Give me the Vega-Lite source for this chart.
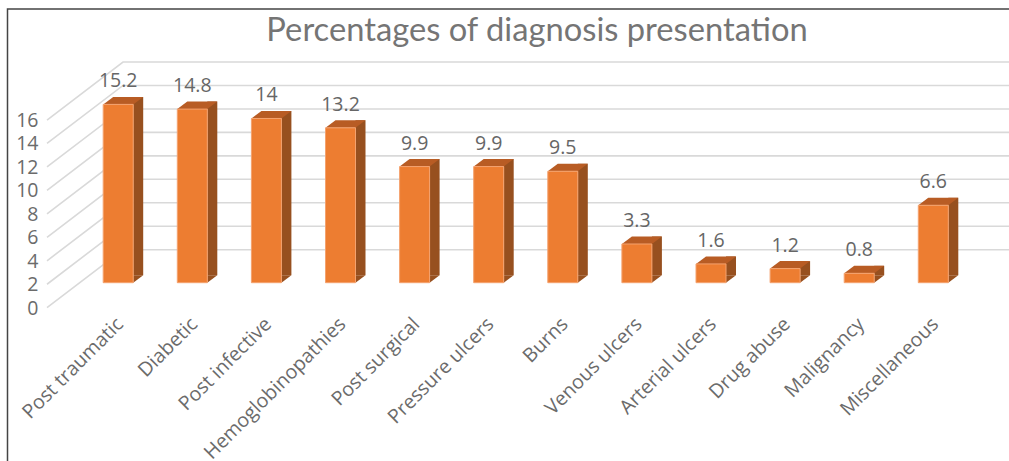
{
"$schema":"https://vega.github.io/schema/vega-lite/v6.json",
"width":962,"height":234.6,
"autosize":{"type":"none"},
"padding":{"left":47,"top":48.1,"right":0,"bottom":178.3},
"background":"white",
"config":{"view":{"stroke":null},"font":"Lato"},
"title":{"text":"Percentages of diagnosis presentation","font":"Lato","fontSize":32.7,"fontWeight":"normal","color":"#757575","anchor":"middle","dx":9,"offset":7,"dy":49},
"datasets":{
"bars":[
{"category":"Post traumatic","value":15.2},
{"category":"Diabetic","value":14.8},
{"category":"Post infective","value":14},
{"category":"Hemoglobinopathies","value":13.2},
{"category":"Post surgical","value":9.9},
{"category":"Pressure ulcers","value":9.9},
{"category":"Burns","value":9.5},
{"category":"Venous ulcers","value":3.3},
{"category":"Arterial ulcers","value":1.6},
{"category":"Drug abuse","value":1.2},
{"category":"Malignancy","value":0.8},
{"category":"Miscellaneous","value":6.6}],
"ticks":[{"tick":0},{"tick":2},{"tick":4},{"tick":6},{"tick":8},{"tick":10},{"tick":12},{"tick":14},{"tick":16}],
"frame":[{"edge":0}]
},
"encoding":{
"x":{"field":"category","type":"nominal","sort":null,
 "scale":{"range":[34.15,923.35],"paddingInner":0,"paddingOuter":0},
 "axis":{"title":null,"domain":false,"ticks":false,"grid":false,"labelAngle":-45,"labelAlign":"right","labelBaseline":"middle","labelPadding":38,"labelOffset":2,"labelFontSize":19.6,"labelColor":"#6b6b6b","labelFont":"Open Sans","labelOverlap":false,"labelBound":false,"labelLimit":0}},
"y":{"field":"value","type":"quantitative",
 "scale":{"domain":[0,20],"nice":false},
 "axis":{"title":null,"domain":false,"ticks":false,"grid":false,"values":[0,2,4,6,8,10,12,14,16],"labelOffset":25.5,"labelPadding":9,"labelFontSize":19.5,"labelColor":"#6b6b6b","labelFont":"Open Sans"}}
},
"layer":[
{"data":{"name":"ticks"},
 "mark":{"type":"point","shape":"M-71.2,25L4.8,-33L890.8,-33","size":4,"filled":false,"opacity":1,"stroke":"#d9d9d9","strokeWidth":1.6},
 "encoding":{"x":{"datum":"Post traumatic"},"y":{"field":"tick","type":"quantitative"}}},
{"data":{"name":"bars"},
 "mark":{"type":"bar","width":10,"xOffset":20,"yOffset":-7.5,"y2Offset":-7.5,"fill":"#97501f"},
 "encoding":{"y2":{"datum":0}}},
{"data":{"name":"bars"},
 "mark":{"type":"point","shape":"M15,0L25,-7.5L15,-7.5Z","size":4,"filled":true,"opacity":1,"fill":"#97501f","stroke":null},
 "encoding":{"y":{"datum":0}}},
{"data":{"name":"bars"},
 "mark":{"type":"point","shape":"M-15,0L15,0L25,-7.5L-5,-7.5Z","size":4,"filled":true,"opacity":1,"fill":"#b85c24","stroke":null}},
{"data":{"name":"bars"},
 "mark":{"type":"bar","width":30,"fill":"#ed7d31","stroke":"#f4a26e","strokeWidth":1}},
{"data":{"name":"bars"},
 "mark":{"type":"text","dy":-17,"baseline":"alphabetic","align":"center","fontSize":19.5,"font":"Open Sans","fill":"#666666"},
 "encoding":{"text":{"field":"value","type":"quantitative"}}},
{"data":{"name":"frame"},
 "mark":{"type":"point","shape":"M-110.7,178.3L-110.7,-273.7L890.8,-273.7","size":4,"filled":false,"opacity":1,"stroke":"#444444","strokeWidth":1.5},
 "encoding":{"x":{"datum":"Post traumatic"},"y":{"field":"edge","type":"quantitative"}}}
]
}
